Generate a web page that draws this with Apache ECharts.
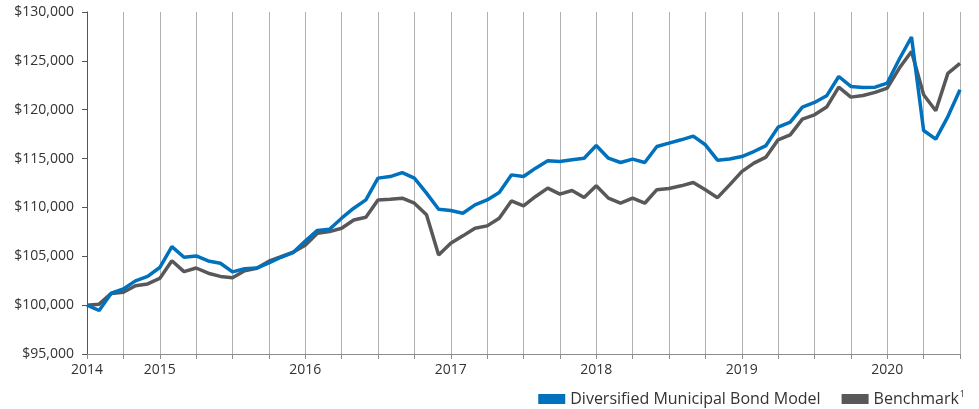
<!DOCTYPE html>
<html>
<head>
<meta charset="utf-8">
<script src="https://cdn.jsdelivr.net/npm/echarts@6/dist/echarts.min.js"></script>
<style>
html,body{margin:0;padding:0;background:#fff;}
#chart{width:979px;height:409px;}
</style>
</head>
<body>
<div id="chart"></div>
<script>
// Months since mid-2014 (one point per month)
const monthIndex = Array.from({length: 73}, (_, i) => i);

const modelName = 'Diversified Municipal Bond Model';
const benchName = 'Benchmark';

const modelValues = [
  100000, 99450, 101220, 101650, 102480, 102950, 103850, 105990, 104900, 105040,
  104520, 104290, 103400, 103720, 103800, 104320, 104900, 105380, 106550, 107650,
  107770, 108900, 109920, 110770, 113000, 113160, 113570, 113000, 111460, 109820,
  109680, 109410, 110260, 110770, 111520, 113330, 113160, 114020, 114770, 114700,
  114870, 115040, 116340, 115040, 114600, 114940, 114600, 116230, 116580, 116920,
  117300, 116410, 114840, 114960, 115210, 115720, 116330, 118220, 118730, 120270,
  120740, 121420, 123400, 122380, 122280, 122310, 122730, 125190, 127440, 117870,
  116990, 119300, 122040
];

const benchValues = [
  100000, 100100, 101200, 101320, 101980, 102170, 102730, 104540, 103430, 103800,
  103270, 102940, 102800, 103520, 103780, 104500, 104970, 105420, 106130, 107360,
  107530, 107870, 108720, 109000, 110770, 110840, 110950, 110430, 109240, 105140,
  106340, 107090, 107870, 108110, 108900, 110670, 110160, 111120, 111970, 111360,
  111730, 111010, 112210, 110950, 110430, 110950, 110430, 111820, 111940, 112210,
  112550, 111800, 111000, 112310, 113670, 114530, 115150, 116920, 117430, 119040,
  119480, 120270, 122320, 121290, 121460, 121770, 122220, 124260, 125960, 121530,
  119890, 123720, 124740
];

const yearTickValues = [0, 6, 18, 30, 42, 54, 66];
const yearTickLabels = ['2014', '2015', '2016', '2017', '2018', '2019', '2020'];

const chart = echarts.init(document.getElementById('chart'), null, {renderer: 'canvas'});
const font = '"Open Sans", "Noto Sans", sans-serif';

chart.setOption({
  animation: false,
  backgroundColor: '#ffffff',
  textStyle: {fontFamily: font},
  grid: {left: 87, right: 19, top: 12, bottom: 55, containLabel: false},
  xAxis: {
    type: 'value',
    min: 0,
    max: 72,
    interval: 3,
    axisLine: {show: true, lineStyle: {color: '#8c8c8c', width: 1}},
    axisTick: {show: true, length: 5, lineStyle: {color: '#8c8c8c'}},
    splitLine: {show: true, lineStyle: {color: '#b0b0b0', width: 1}},
    axisLabel: {
      show: true,
      margin: 9,
      color: '#333333',
      fontSize: 14,
      fontFamily: font,
      showMinLabel: true,
      showMaxLabel: true,
      formatter: function (v) {
        const k = yearTickValues.indexOf(Math.round(v));
        return (k >= 0 && Math.abs(v - Math.round(v)) < 1e-6) ? yearTickLabels[k] : '';
      }
    }
  },
  yAxis: {
    type: 'value',
    min: 95000,
    max: 130000,
    interval: 5000,
    axisLine: {show: true, lineStyle: {color: '#555555', width: 1}},
    axisTick: {show: true, length: 5, lineStyle: {color: '#555555'}},
    splitLine: {show: false},
    axisLabel: {
      margin: 13,
      color: '#333333',
      fontSize: 14,
      fontFamily: font,
      formatter: function (v) {
        return '$' + v.toString().replace(/\B(?=(\d{3})+(?!\d))/g, ',');
      }
    }
  },
  legend: {
    data: [modelName, benchName],
    right: 14,
    top: 390,
    padding: 0,
    icon: 'rect',
    itemWidth: 27,
    itemHeight: 10,
    itemGap: 21,
    textStyle: {
      fontSize: 16,
      color: '#333333',
      fontFamily: font,
      rich: {
        sup: {fontSize: 9, color: '#333333', fontFamily: font, padding: [0, 0, 9, 1]}
      }
    },
    formatter: function (name) {
      return name === benchName ? name + '{sup|1}' : name;
    }
  },
  series: [
    {
      name: benchName,
      type: 'line',
      data: monthIndex.map((m, i) => [m, benchValues[i]]),
      showSymbol: false,
      symbol: 'none',
      z: 2,
      itemStyle: {color: '#58585a'},
      lineStyle: {color: '#58585a', width: 3.5}
    },
    {
      name: modelName,
      type: 'line',
      data: monthIndex.map((m, i) => [m, modelValues[i]]),
      showSymbol: false,
      symbol: 'none',
      z: 3,
      itemStyle: {color: '#0071bc'},
      lineStyle: {color: '#0071bc', width: 3.5}
    }
  ]
});
</script>
</body>
</html>
